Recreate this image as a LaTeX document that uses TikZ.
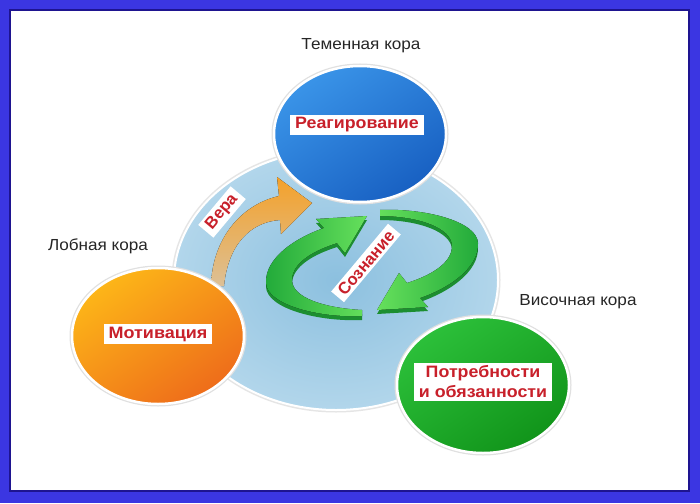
\documentclass[tikz,border=0pt]{standalone}
\usepackage{fontspec}
\setmainfont{Liberation Sans}
\usetikzlibrary{shapes.geometric}
\definecolor{frameblue}{HTML}{3B36E2}
\definecolor{framedark}{HTML}{1E1490}
\definecolor{tagred}{HTML}{C8202A}
\definecolor{coreIn}{HTML}{8CC0DF}
\definecolor{coreOut}{HTML}{B2D6EB}
\definecolor{blueA}{HTML}{3A94E8}
\definecolor{blueB}{HTML}{1860C2}
\definecolor{orA}{HTML}{FDB618}
\definecolor{orB}{HTML}{EE6C1A}
\definecolor{grA}{HTML}{2CC03A}
\definecolor{grB}{HTML}{11941A}
\definecolor{veraTop}{HTML}{F4A12A}
\definecolor{veraBot}{HTML}{DCC096}
\definecolor{gdark}{HTML}{22AA3A}
\definecolor{glight}{HTML}{66E05C}
\definecolor{gside}{HTML}{1C8E30}
\begin{document}
\begin{tikzpicture}[x=1pt,y=-1pt,
  lbl/.style={font=\fontsize{16}{19}\selectfont, text=black!85, inner sep=1pt},
  tag/.style={fill=white, text=tagred, font=\bfseries\fontsize{16.5}{20}\selectfont,
              inner xsep=5pt, inner ysep=2.5pt, align=center},
  blob/.style={ellipse, draw=white, line width=2.5pt, minimum width=172pt,
               minimum height=136pt, inner sep=0pt},
  halo/.style={ellipse, draw=black!12, line width=5pt, minimum width=172pt,
               minimum height=136pt, inner sep=0pt}
]
\useasboundingbox (0,0) rectangle (700,503);
% frame
\fill[frameblue] (0,0) rectangle (700,503);
\fill[white] (10,10) rectangle (689,491);
\draw[framedark, line width=1.2pt] (10,10) rectangle (689,491);

% central disc
\node[ellipse, draw=black!10, line width=5pt, minimum width=324pt, minimum height=260pt] (corehalo) at (336,280) {};
\node[ellipse, inner color=coreIn, outer color=coreOut, draw=white, line width=2pt,
      minimum width=324pt, minimum height=260pt] (core) at (336,280) {};

% orange arrow (Vera)
\fill[top color=veraTop, bottom color=veraBot]
  (211,286) .. controls (212,240) and (240,205) .. (279,196)
  -- (277,177) -- (312,203) -- (281,234) -- (280,220)
  .. controls (250,222) and (228,245) .. (224,286) -- cycle;

% green arrows: thickness layer
\begin{scope}[yshift=-4pt]
\fill[gside]
  (362,316) .. controls (320,318) and (267,305) .. (266,283)
  .. controls (265,258) and (295,238) .. (324,228)
  -- (316,219) -- (367,216) -- (345,253) -- (337,243)
  .. controls (315,250) and (292,262) .. (292,280)
  .. controls (292,298) and (325,308) .. (362,310) -- cycle;
\fill[gside]
  (380,210) .. controls (424,208) and (477,221) .. (478,243)
  .. controls (479,268) and (449,288) .. (420,298)
  -- (428,307) -- (377,310) -- (399,273) -- (407,283)
  .. controls (429,276) and (452,264) .. (452,246)
  .. controls (452,228) and (419,216) .. (380,216) -- cycle;
\end{scope}
% green arrows: faces
\fill[left color=gdark, right color=glight]
  (362,316) .. controls (320,318) and (267,305) .. (266,283)
  .. controls (265,258) and (295,238) .. (324,228)
  -- (316,219) -- (367,216) -- (345,253) -- (337,243)
  .. controls (315,250) and (292,262) .. (292,280)
  .. controls (292,298) and (325,308) .. (362,310) -- cycle;
\fill[left color=glight, right color=gdark]
  (380,210) .. controls (424,208) and (477,221) .. (478,243)
  .. controls (479,268) and (449,288) .. (420,298)
  -- (428,307) -- (377,310) -- (399,273) -- (407,283)
  .. controls (429,276) and (452,264) .. (452,246)
  .. controls (452,228) and (419,216) .. (380,216) -- cycle;

% rotated tags
\node[tag, rotate=50] (vera) at (222,212) {Вера};
\node[tag, rotate=50] (soz) at (366,263) {Сознание};

% coloured blobs
\node[halo] (bluehalo) at (360,134) {};
\node[blob, top color=blueA, bottom color=blueB, shading angle=35] (blue) at (360,134) {};
\node[halo] (orangehalo) at (158,336) {};
\node[blob, top color=orA, bottom color=orB, shading angle=35] (orange) at (158,336) {};
\node[halo] (greenhalo) at (483,385) {};
\node[blob, top color=grA, bottom color=grB, shading angle=35] (green) at (483,385) {};

% tags in blobs
\node[tag] (reag) at (357,125) {\scalebox{1.08}[1]{Реагирование}};
\node[tag] (motiv) at (158,334) {\scalebox{1.09}[1]{Мотивация}};
\node[tag] (potr) at (483,382) {\scalebox{1.08}[1]{Потребности}\\\scalebox{1.08}[1]{и обязанности}};

% region labels
\node[lbl] (tem) at (361,46) {\scalebox{1.07}[1]{Теменная кора}};
\node[lbl] (lob) at (98,246) {\scalebox{1.07}[1]{Лобная кора}};
\node[lbl] (vis) at (578,302) {\scalebox{1.07}[1]{Височная кора}};
\end{tikzpicture}
\end{document}
